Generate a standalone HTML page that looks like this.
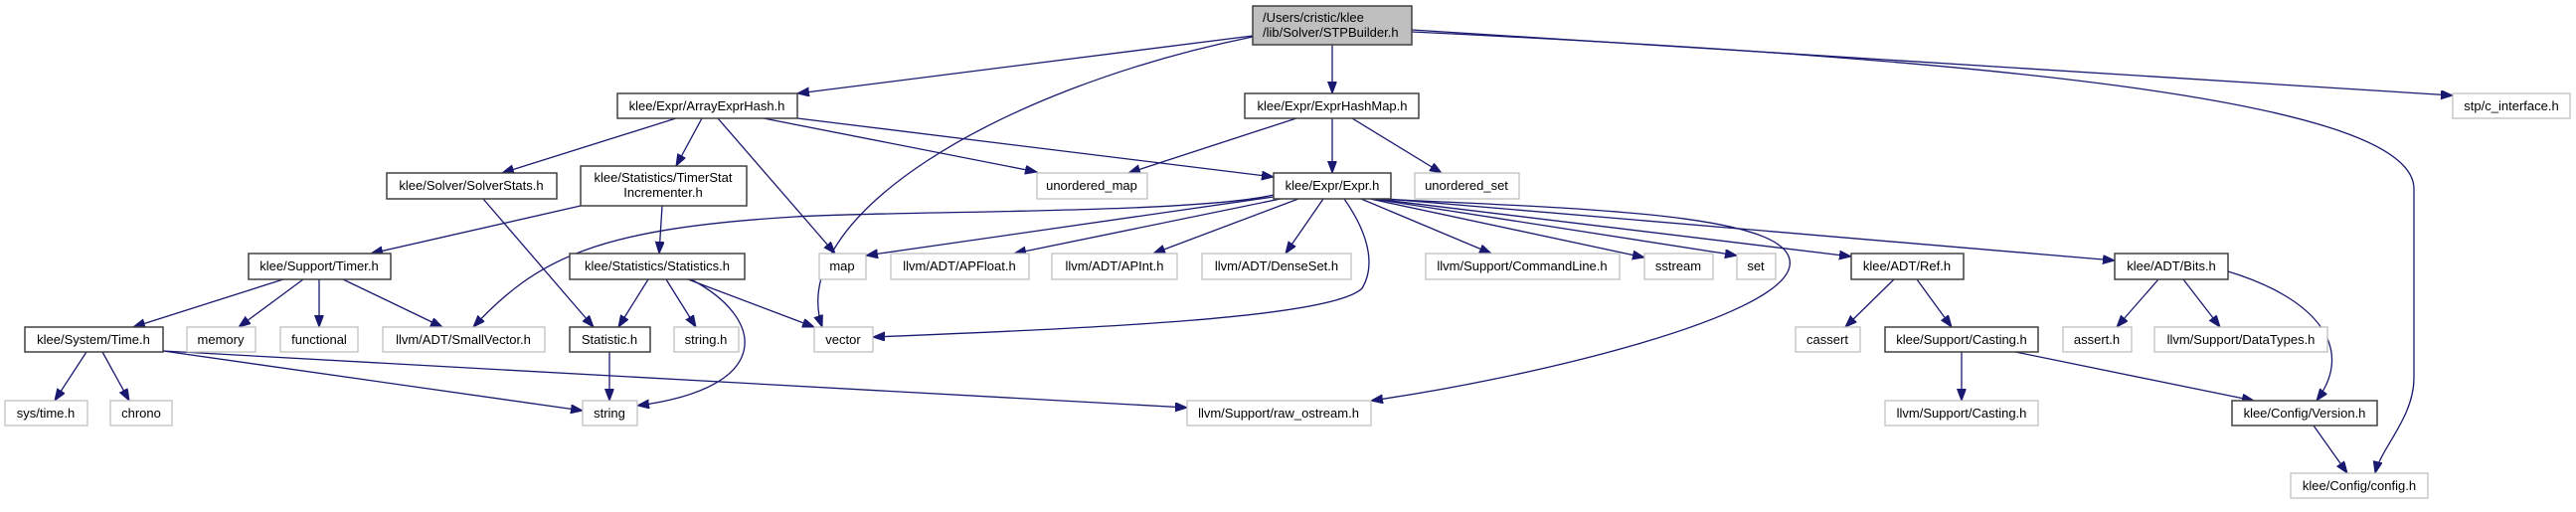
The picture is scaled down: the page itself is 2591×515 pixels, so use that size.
<!DOCTYPE html>
<html><head><meta charset="utf-8"><style>
html,body{margin:0;padding:0;background:#fff;}
svg{display:block;}
text{font-family:"Liberation Sans",Arial,sans-serif;font-size:13px;fill:#000;text-anchor:middle;}
.e{fill:none;stroke:#191970;stroke-width:1.3;marker-end:url(#a);}
.b{fill:#fff;stroke:#404040;stroke-width:1.5;}
.g{fill:#fff;stroke:#bfbfbf;stroke-width:1.3;}
</style></head><body>
<svg width="2591" height="515" viewBox="0 0 2591 515" xmlns="http://www.w3.org/2000/svg">
<defs><marker id="a" markerUnits="userSpaceOnUse" markerWidth="13" markerHeight="10" refX="12" refY="4.5" orient="auto"><path d="M0,0 L12,4.5 L0,9 z" fill="#191970" stroke="#191970"/></marker></defs>

<!-- edges -->
<path class="e" d="M1260,36 L802,94"/>
<path class="e" d="M1340,45 L1340,94"/>
<path class="e" d="M1260,37 C1000,90 790,220 827,329"/>
<path class="e" d="M1420,30 L2467,96"/>
<path class="e" d="M1420,32 C2000,60 2428,100 2428,190 L2428,380 C2428,420 2395,450 2389,476"/>
<path class="e" d="M680,119 L505,174"/>
<path class="e" d="M706,119 L680,167"/>
<path class="e" d="M722,119 L840,255"/>
<path class="e" d="M768,119 L1043,173"/>
<path class="e" d="M802,119 L1281,178"/>
<path class="e" d="M1304,119 L1135,174"/>
<path class="e" d="M1340,119 L1340,174"/>
<path class="e" d="M1360,119 L1450,174"/>
<path class="e" d="M486,200 L597,329"/>
<path class="e" d="M584,207 L373,255"/>
<path class="e" d="M666,207 L663,255"/>
<path class="e" d="M285,281 L134,329"/>
<path class="e" d="M305,281 L240,329"/>
<path class="e" d="M321,281 L321,329"/>
<path class="e" d="M345,281 L445,329"/>
<path class="e" d="M652,281 L622,329"/>
<path class="e" d="M670,281 L700,329"/>
<path class="e" d="M692,281 L819,329"/>
<path class="e" d="M695,281 C770,320 780,390 641,408"/>
<path class="e" d="M613,354 L613,403"/>
<path class="e" d="M87,354 L55,403"/>
<path class="e" d="M103,354 L130,403"/>
<path class="e" d="M164,353 L586,413"/>
<path class="e" d="M164,353 L1194,410"/>
<path class="e" d="M1281,196 C1200,215 900,212 800,218 C600,230 540,260 476,329"/>
<path class="e" d="M1281,198 L871,257"/>
<path class="e" d="M1288,200 L1020,255"/>
<path class="e" d="M1306,200 L1160,255"/>
<path class="e" d="M1331,200 L1293,255"/>
<path class="e" d="M1352,200 C1380,240 1382,270 1370,290 C1340,320 1100,330 878,339"/>
<path class="e" d="M1369,200 L1500,255"/>
<path class="e" d="M1378,200 L1654,259"/>
<path class="e" d="M1381,200 L1747,257"/>
<path class="e" d="M1383,200 L1862,258"/>
<path class="e" d="M1383,199 L2127,262"/>
<path class="e" d="M1385,200 C1600,210 1810,215 1800,268 C1790,320 1540,380 1379,403"/>
<path class="e" d="M1905,281 L1856,329"/>
<path class="e" d="M1928,281 L1963,329"/>
<path class="e" d="M2171,281 L2129,329"/>
<path class="e" d="M2196,281 L2233,329"/>
<path class="e" d="M2241,273 C2330,300 2370,350 2330,403"/>
<path class="e" d="M1973,354 L1973,403"/>
<path class="e" d="M2027,354 L2267,403"/>
<path class="e" d="M2327,428 L2361,476"/>

<!-- nodes -->
<rect x="1260" y="6" width="160" height="39" fill="#bfbfbf" stroke="#404040" stroke-width="1.5"/>
<text x="1270" y="22" style="text-anchor:start">/Users/cristic/klee</text>
<text x="1270" y="37" style="text-anchor:start">/lib/Solver/STPBuilder.h</text>

<rect class="b" x="621" y="94" width="181" height="25"/><text x="711" y="111">klee/Expr/ArrayExprHash.h</text>
<rect class="b" x="1252" y="94" width="175" height="25"/><text x="1340" y="111">klee/Expr/ExprHashMap.h</text>
<rect class="g" x="2467" y="94" width="118" height="25"/><text x="2526" y="111">stp/c_interface.h</text>

<rect class="b" x="389" y="174" width="171" height="26"/><text x="474" y="191">klee/Solver/SolverStats.h</text>
<rect class="b" x="584" y="167" width="167" height="40"/><text x="667" y="183">klee/Statistics/TimerStat</text><text x="667" y="198">Incrementer.h</text>
<rect class="g" x="1043" y="174" width="111" height="26"/><text x="1098" y="191">unordered_map</text>
<rect class="b" x="1281" y="174" width="118" height="26"/><text x="1340" y="191">klee/Expr/Expr.h</text>
<rect class="g" x="1423" y="174" width="105" height="26"/><text x="1475" y="191">unordered_set</text>

<rect class="b" x="250" y="255" width="143" height="26"/><text x="321" y="272">klee/Support/Timer.h</text>
<rect class="b" x="573" y="255" width="176" height="26"/><text x="661" y="272">klee/Statistics/Statistics.h</text>
<rect class="g" x="824" y="255" width="47" height="26"/><text x="847" y="272">map</text>
<rect class="g" x="896" y="255" width="139" height="26"/><text x="965" y="272">llvm/ADT/APFloat.h</text>
<rect class="g" x="1058" y="255" width="126" height="26"/><text x="1121" y="272">llvm/ADT/APInt.h</text>
<rect class="g" x="1209" y="255" width="150" height="26"/><text x="1284" y="272">llvm/ADT/DenseSet.h</text>
<rect class="g" x="1434" y="255" width="195" height="26"/><text x="1531" y="272">llvm/Support/CommandLine.h</text>
<rect class="g" x="1654" y="255" width="69" height="26"/><text x="1688" y="272">sstream</text>
<rect class="g" x="1747" y="255" width="39" height="26"/><text x="1766" y="272">set</text>
<rect class="b" x="1862" y="255" width="113" height="26"/><text x="1918" y="272">klee/ADT/Ref.h</text>
<rect class="b" x="2127" y="255" width="114" height="26"/><text x="2184" y="272">klee/ADT/Bits.h</text>

<rect class="b" x="25" y="329" width="139" height="25"/><text x="94" y="346">klee/System/Time.h</text>
<rect class="g" x="188" y="329" width="69" height="25"/><text x="222" y="346">memory</text>
<rect class="g" x="282" y="329" width="78" height="25"/><text x="321" y="346">functional</text>
<rect class="g" x="385" y="329" width="163" height="25"/><text x="466" y="346">llvm/ADT/SmallVector.h</text>
<rect class="b" x="573" y="329" width="81" height="25"/><text x="613" y="346">Statistic.h</text>
<rect class="g" x="678" y="329" width="65" height="25"/><text x="710" y="346">string.h</text>
<rect class="g" x="819" y="329" width="59" height="25"/><text x="848" y="346">vector</text>
<rect class="g" x="1806" y="329" width="65" height="25"/><text x="1838" y="346">cassert</text>
<rect class="b" x="1896" y="329" width="154" height="25"/><text x="1973" y="346">klee/Support/Casting.h</text>
<rect class="g" x="2075" y="329" width="69" height="25"/><text x="2109" y="346">assert.h</text>
<rect class="g" x="2167" y="329" width="174" height="25"/><text x="2254" y="346">llvm/Support/DataTypes.h</text>

<rect class="g" x="5" y="403" width="83" height="25"/><text x="46" y="420">sys/time.h</text>
<rect class="g" x="111" y="403" width="62" height="25"/><text x="142" y="420">chrono</text>
<rect class="g" x="586" y="403" width="55" height="25"/><text x="613" y="420">string</text>
<rect class="g" x="1194" y="403" width="185" height="25"/><text x="1286" y="420">llvm/Support/raw_ostream.h</text>
<rect class="g" x="1896" y="403" width="154" height="25"/><text x="1973" y="420">llvm/Support/Casting.h</text>
<rect class="b" x="2245" y="403" width="146" height="25"/><text x="2318" y="420">klee/Config/Version.h</text>

<rect class="g" x="2304" y="476" width="138" height="25"/><text x="2373" y="493">klee/Config/config.h</text>
</svg>
</body></html>
